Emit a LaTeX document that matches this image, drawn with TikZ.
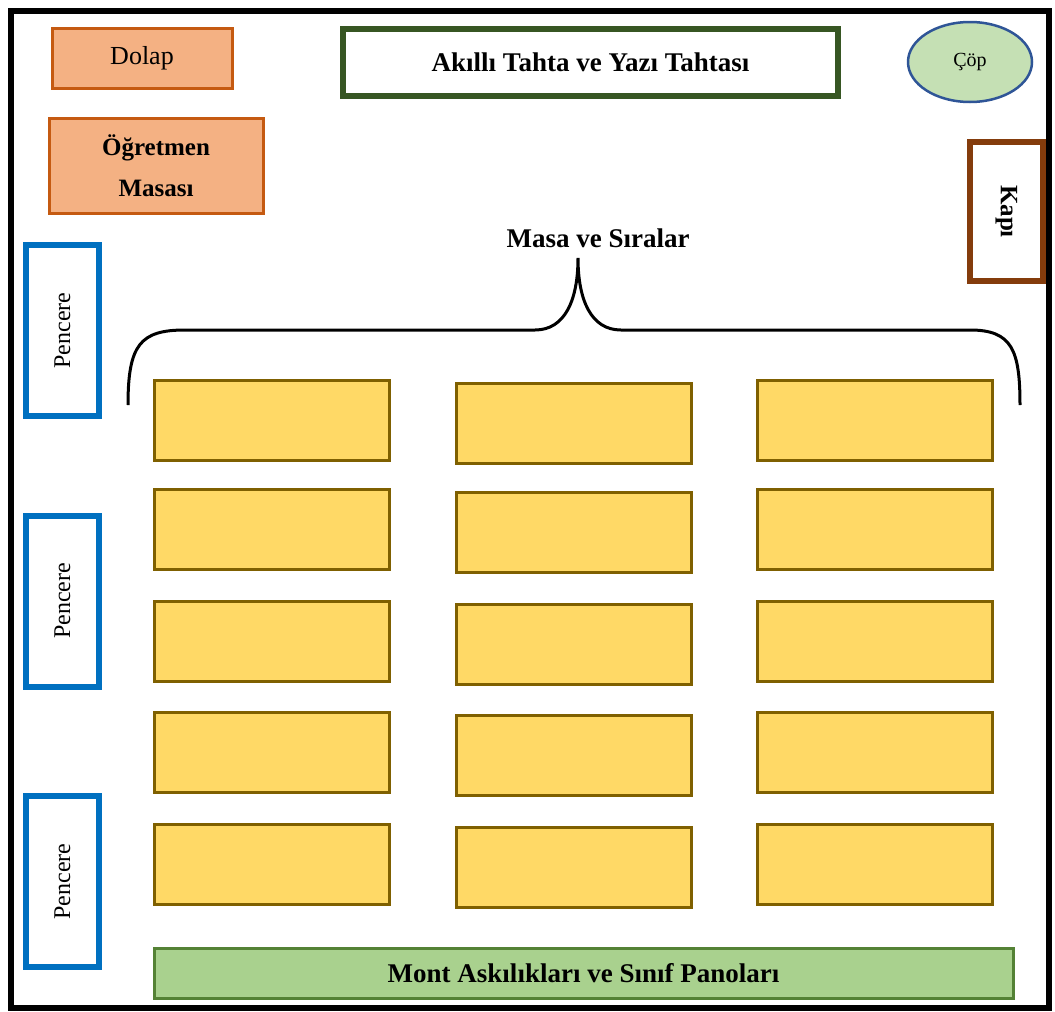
\documentclass[tikz,border=0pt]{standalone}
\usepackage{fontspec}
\setmainfont{Liberation Serif}
\usetikzlibrary{shapes.geometric}

\definecolor{dolapfill}{HTML}{F4B183}
\definecolor{dolapline}{HTML}{C55A11}
\definecolor{tahtaline}{HTML}{375623}
\definecolor{copfill}{HTML}{C5E0B4}
\definecolor{copline}{HTML}{2F5597}
\definecolor{kapiline}{HTML}{843C0C}
\definecolor{pencline}{HTML}{0070C0}
\definecolor{sirafill}{HTML}{FFD966}
\definecolor{siraline}{HTML}{7F6000}
\definecolor{panofill}{HTML}{A9D18E}
\definecolor{panoline}{HTML}{548235}

\begin{document}
\begin{tikzpicture}[x=1pt,y=-1pt,
	kutu/.style={draw, rectangle, inner sep=0pt},
	dolap/.style={kutu, fill=dolapfill, draw=dolapline, line width=3pt},
	pencere/.style={kutu, fill=white, draw=pencline, line width=6pt, rotate=90,
		minimum width=171, minimum height=73, font=\fontsize{24}{28}\selectfont},
	sira/.style={kutu, fill=sirafill, draw=siraline, line width=3pt,
		minimum width=235, minimum height=80},
	yazi/.style={font=\fontsize{25}{41}\selectfont\bfseries},
	buyukyazi/.style={font=\fontsize{27}{32}\selectfont\bfseries}]
	\useasboundingbox[fill=white] (0,0) rectangle (1055,1012);
	\draw[line width=6pt] (11,11) rectangle (1049,1008);

	% on taraf
	\node[dolap, minimum width=180, minimum height=60, font=\fontsize{26}{30}\selectfont] (dolap) at (142,58) {Dolap};
	\node[dolap, minimum width=214, minimum height=95, align=center, yazi] (masa) at (156,165.5) {Öğretmen\\Masası};
	\node[kutu, fill=white, draw=tahtaline, line width=6pt, minimum width=495, minimum height=67, buyukyazi] (tahta) at (590.5,62.5) {Akıllı Tahta ve Yazı Tahtası};
	\node[ellipse, draw=copline, fill=copfill, line width=2.5pt, minimum width=124, minimum height=80, inner sep=0pt,
		font=\fontsize{20}{24}\selectfont] (cop) at (970,62) {Çöp};
	\node[kutu, fill=white, draw=kapiline, line width=6pt, rotate=-90, minimum width=139, minimum height=73, yazi] (kapi) at (1006.5,211.5) {Kapı};

	% pencereler
	\node[pencere] (pencere1) at (62.5,330.5) {Pencere};
	\node[pencere] (pencere2) at (62.5,601) {Pencere};
	\node[pencere] (pencere3) at (62.5,881.5) {Pencere};

	% masa ve siralar
	\node[buyukyazi] (baslik) at (598,238) {Masa ve Sıralar};
	\coordinate (solucu) at (128,405);
	\coordinate (tepe) at (578,258);
	\coordinate (sagucu) at (1020,405);
	\draw[line width=3pt] (solucu) .. controls (128,345) and (140,330) .. (185,330) -- (535,330)
		.. controls (565,330) and (578,300) .. (tepe)
		.. controls (578,300) and (591,330) .. (621,330) -- (970,330)
		.. controls (1012,330) and (1020,350) .. (sagucu);
	\foreach \x/\dy [count=\i] in {271.5/0, 573.5/3, 874.5/0}
		\foreach \y [count=\j] in {420, 529, 641, 752, 864}
			\node[sira] (sira\i\j) at (\x,\y+\dy) {};

	% arka duvar
	\node[kutu, fill=panofill, draw=panoline, line width=3pt, minimum width=859, minimum height=50, buyukyazi] (pano) at (583.5,973) {Mont Askılıkları ve Sınıf Panoları};
\end{tikzpicture}
\end{document}
